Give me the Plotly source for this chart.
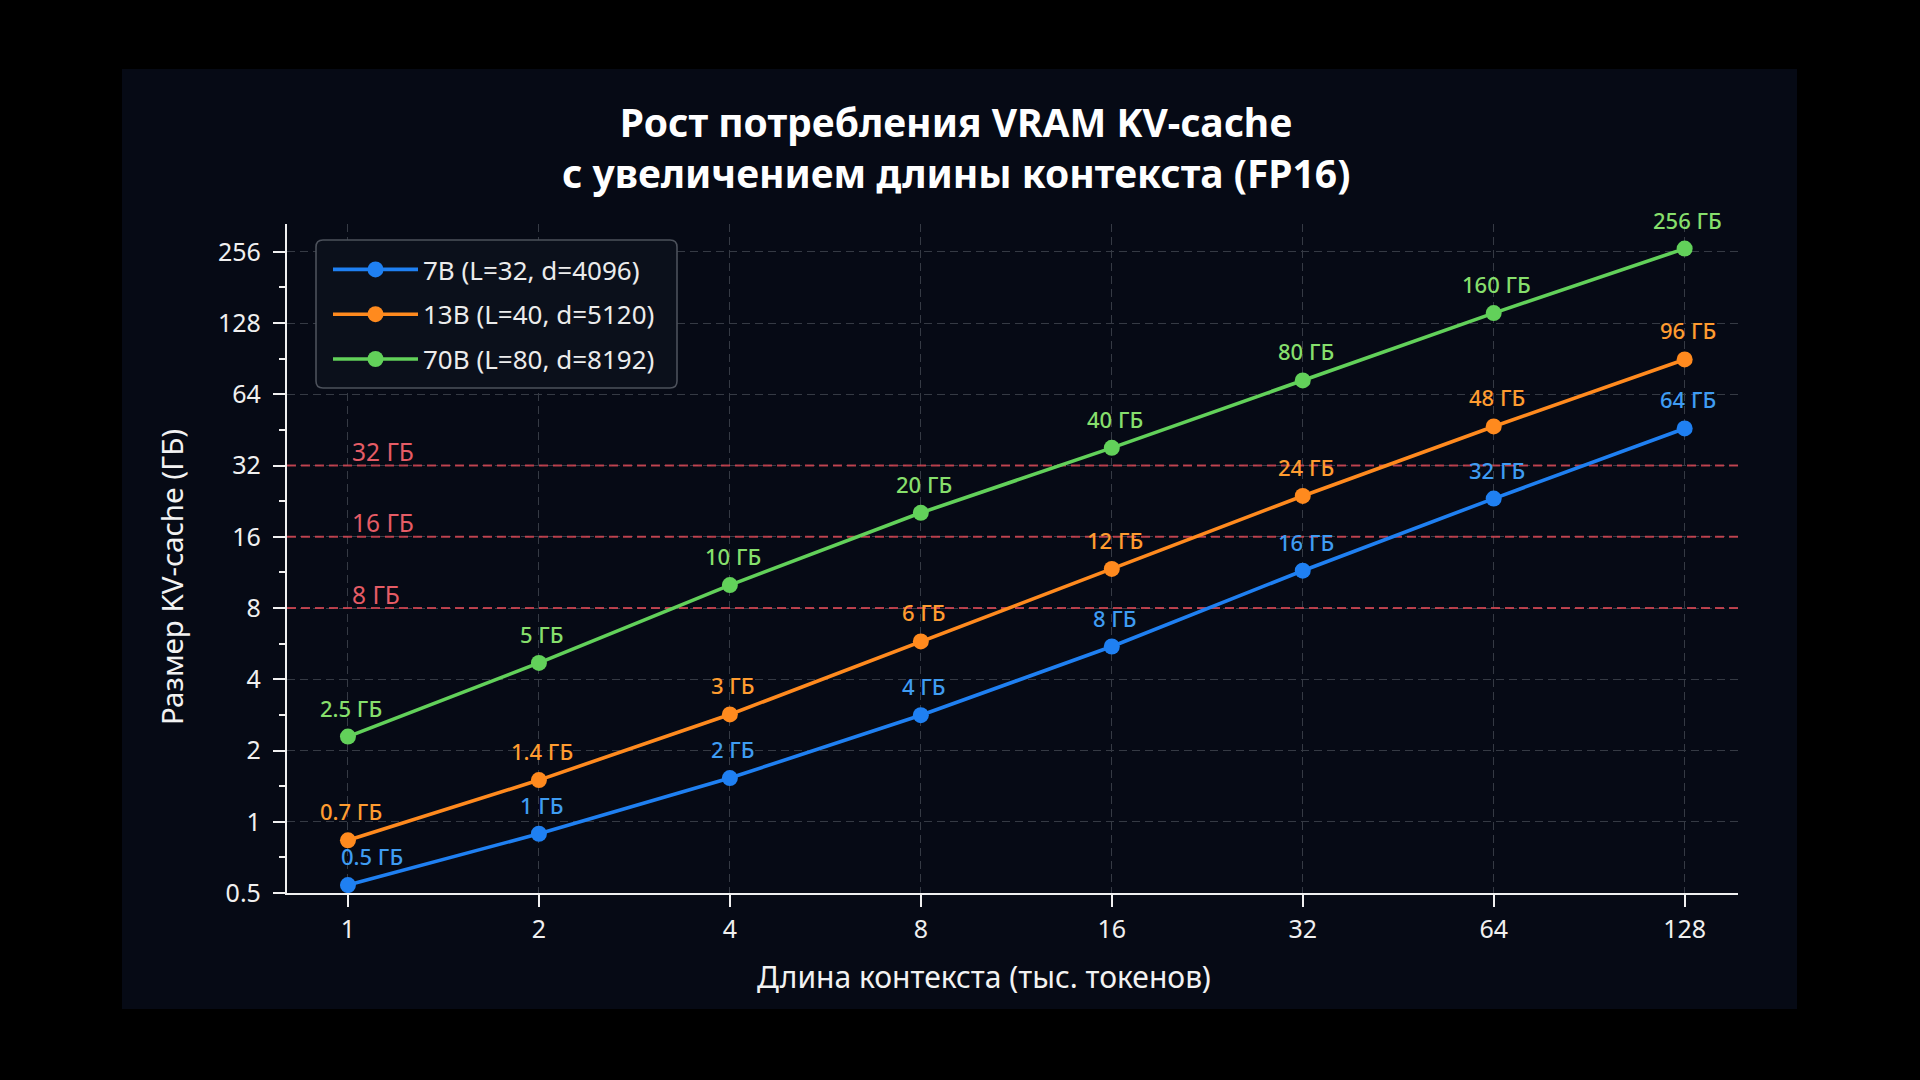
import math
import plotly.graph_objects as go

# ---------------- data ----------------
context_k = [1, 2, 4, 8, 16, 32, 64, 128]
x_ticks = [1, 2, 4, 8, 16, 32, 64, 128]
x_ticktext = ["1", "2", "4", "8", "16", "32", "64", "128"]
y_ticks = [0.5, 1, 2, 4, 8, 16, 32, 64, 128, 256]
y_ticktext = ["0.5", "1", "2", "4", "8", "16", "32", "64", "128", "256"]

series_names = ["7B (L=32, d=4096)", "13B (L=40, d=5120)", "70B (L=80, d=8192)"]
vals_7b = [0.54, 0.89, 1.53, 2.82, 5.5, 11.5, 23.2, 45.9]
vals_13b = [0.835, 1.5, 2.84, 5.78, 11.7, 23.8, 46.8, 89.8]
vals_70b = [2.29, 4.69, 10.0, 20.2, 38.0, 73.2, 141, 264]
labels_7b = ["0.5 ГБ", "1 ГБ", "2 ГБ", "4 ГБ", "8 ГБ", "16 ГБ", "32 ГБ", "64 ГБ"]
labels_13b = ["0.7 ГБ", "1.4 ГБ", "3 ГБ", "6 ГБ", "12 ГБ", "24 ГБ", "48 ГБ", "96 ГБ"]
labels_70b = ["2.5 ГБ", "5 ГБ", "10 ГБ", "20 ГБ", "40 ГБ", "80 ГБ", "160 ГБ", "256 ГБ"]

thresholds = [8, 16, 32]
threshold_labels = ["8 ГБ", "16 ГБ", "32 ГБ"]

title_lines = ["Рост потребления VRAM KV-cache", "с увеличением длины контекста (FP16)"]
x_title = "Длина контекста (тыс. токенов)"
y_title = "Размер KV-cache (ГБ)"

# ---------------- style ----------------
FONT = "Noto Sans"
W, H = 1920, 1080
ML, MR, MT, MB = 287, 182, 224, 187
PW, PH = W - ML - MR, H - MT - MB

line_colors = ["#1f80f2", "#ff8a1e", "#62d15a"]
label_colors = ["#3f9cf2", "#ff9c30", "#86df6c"]
thr_line = "rgba(214,72,84,0.85)"
thr_text = "#e55c66"
grid_col = "#353a44"
panel_col = "#060a15"

x_range = [-0.0961, 2.1913]
y_range = [math.log10(0.5), 2.5256]

def px_to_paper_x(px):
    return (px - ML) / PW

def px_to_paper_y(py):
    return (H - MB - py) / PH

fig = go.Figure()

# threshold lines (drawn first, beneath series)
for t in thresholds:
    fig.add_trace(go.Scatter(
        x=[10 ** x_range[0], 10 ** x_range[1]], y=[t, t], mode="lines",
        line=dict(color=thr_line, width=1.8, dash="9px,5px"),
        showlegend=False, hoverinfo="skip"))

all_vals = [vals_7b, vals_13b, vals_70b]
all_labels = [labels_7b, labels_13b, labels_70b]
for i, (name, vals) in enumerate(zip(series_names, all_vals)):
    fig.add_trace(go.Scatter(
        x=context_k, y=vals, mode="lines+markers", name=name,
        legendgroup=f"g{i}",
        line=dict(color=line_colors[i], width=3.6),
        marker=dict(color=line_colors[i], size=16, line=dict(width=0)),
    ))

annotations = []
for i, (vals, labs) in enumerate(zip(all_vals, all_labels)):
    for j, (c, v, lab) in enumerate(zip(context_k, vals, labs)):
        xs = 3
        if i == 0 and j == 0:
            xs = 24
        annotations.append(dict(
            x=math.log10(c), y=math.log10(v), xref="x", yref="y",
            text=lab, showarrow=False, xanchor="center", yanchor="middle",
            xshift=xs, yshift=29,
            font=dict(family=FONT, size=22, color=label_colors[i], weight=500)))

for t, lab in zip(thresholds, threshold_labels):
    annotations.append(dict(
        x=0, y=math.log10(t), xref="x", yref="y", text=lab, showarrow=False,
        xanchor="left", yanchor="middle", xshift=2, yshift=14,
        font=dict(family=FONT, size=24.5, color=thr_text)))

# axis titles
annotations.append(dict(
    x=px_to_paper_x(984), y=px_to_paper_y(976), xref="paper", yref="paper",
    text=x_title, showarrow=False, xanchor="center", yanchor="middle",
    font=dict(family=FONT, size=30, color="#f2f2f2")))
annotations.append(dict(
    x=px_to_paper_x(171), y=px_to_paper_y(577), xref="paper", yref="paper",
    text=y_title, showarrow=False, xanchor="center", yanchor="middle", textangle=-90,
    font=dict(family=FONT, size=29.5, color="#f2f2f2")))

# shapes: panel and legend box
shapes = [dict(
    type="rect", xref="paper", yref="paper", layer="below",
    x0=px_to_paper_x(122), x1=px_to_paper_x(1797),
    y0=px_to_paper_y(1009), y1=px_to_paper_y(69),
    fillcolor=panel_col, line=dict(width=0))]

lx0, lx1, ly0, ly1 = 316, 677, 240, 388
r = 7
def P(px, py):
    return f"{px_to_paper_x(px):.6f},{px_to_paper_y(py):.6f}"
legend_path = (
    f"M{P(lx0 + r, ly0)} L{P(lx1 - r, ly0)} Q{P(lx1, ly0)} {P(lx1, ly0 + r)} "
    f"L{P(lx1, ly1 - r)} Q{P(lx1, ly1)} {P(lx1 - r, ly1)} "
    f"L{P(lx0 + r, ly1)} Q{P(lx0, ly1)} {P(lx0, ly1 - r)} "
    f"L{P(lx0, ly0 + r)} Q{P(lx0, ly0)} {P(lx0 + r, ly0)} Z")
shapes.append(dict(type="path", xref="paper", yref="paper", layer="above",
                   path=legend_path, fillcolor="#0b101b",
                   line=dict(color="#4c515b", width=1.6)))

minor_y = [0.5 * 2 ** (k + 0.5) for k in range(9)]

fig.update_layout(
    width=W, height=H,
    margin=dict(l=ML, r=MR, t=MT, b=MB, pad=0),
    paper_bgcolor="#000000", plot_bgcolor="rgba(0,0,0,0)",
    font=dict(family=FONT, color="#f0f0f0"),
    title=dict(
        text="<br>".join(title_lines), xref="container", yref="container",
        x=0.498, y=1 - 137 / H, xanchor="center", yanchor="middle",
        font=dict(family=FONT, size=39, color="#ffffff", weight="bold")),
    showlegend=True,
    legend=dict(
        x=px_to_paper_x(328), y=px_to_paper_y(246), xanchor="left", yanchor="top",
        bgcolor="rgba(0,0,0,0)", borderwidth=0,
        font=dict(family=FONT, size=26, color="#ececec"),
        itemwidth=85, tracegroupgap=8),
    annotations=annotations,
    shapes=shapes,
)

fig.update_xaxes(
    type="log", range=x_range, tickvals=x_ticks, ticktext=x_ticktext,
    showline=True, linecolor="#f0f0f0", linewidth=2.2,
    ticks="outside", ticklen=12, tickwidth=1.8, tickcolor="#f0f0f0",
    tickfont=dict(family=FONT, size=25, color="#f0f0f0"), ticklabelstandoff=1,
    showgrid=True, gridcolor=grid_col, gridwidth=1.2, griddash="8px,5px",
    zeroline=False, mirror=False)

fig.update_yaxes(
    type="log", range=y_range, tickvals=y_ticks, ticktext=y_ticktext,
    showline=True, linecolor="#f0f0f0", linewidth=2.2,
    ticks="outside", ticklen=12, tickwidth=1.8, tickcolor="#f0f0f0",
    tickfont=dict(family=FONT, size=25, color="#f0f0f0"), ticklabelstandoff=7,
    showgrid=True, gridcolor=grid_col, gridwidth=1.2, griddash="8px,5px",
    minor=dict(tickvals=minor_y, ticks="outside", ticklen=6, tickwidth=1.6,
               tickcolor="#f0f0f0", showgrid=False),
    zeroline=False, mirror=False)

fig.write_html("out.html")
